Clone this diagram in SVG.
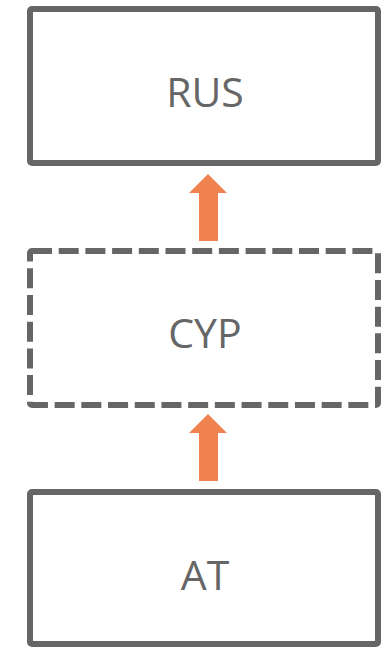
<svg xmlns="http://www.w3.org/2000/svg" width="381" height="647" viewBox="0 0 381 647">
<style>
.box{fill:#fff;stroke:#666;stroke-width:6}
.dash{stroke-dasharray:20 6.7}
.lbl{font-family:"Open Sans","Noto Sans",sans-serif;font-size:41px;fill:#666;text-anchor:middle}
.arr{fill:#F08150}
</style>
<rect width="381" height="647" fill="#fff"/>
<g id="connectors">
<polygon class="arr" points="208,174 227,193 218,193 218,241 199,241 199,193 189,193"/>
<polygon class="arr" points="208,414 227,433 218,433 218,481 199,481 199,433 189,433"/>
</g>
<g id="RUS">
<rect class="box" x="30" y="9" width="348" height="154" rx="2"/>
<text class="lbl" x="205" y="107">RUS</text>
</g>
<g id="CYP">
<rect class="box dash" x="30" y="251" width="348" height="154" rx="2"/>
<text class="lbl" x="205" y="348">CYP</text>
</g>
<g id="AT">
<rect class="box" x="30" y="492" width="348" height="152" rx="2"/>
<text class="lbl" x="205" y="590">AT</text>
</g>
</svg>
